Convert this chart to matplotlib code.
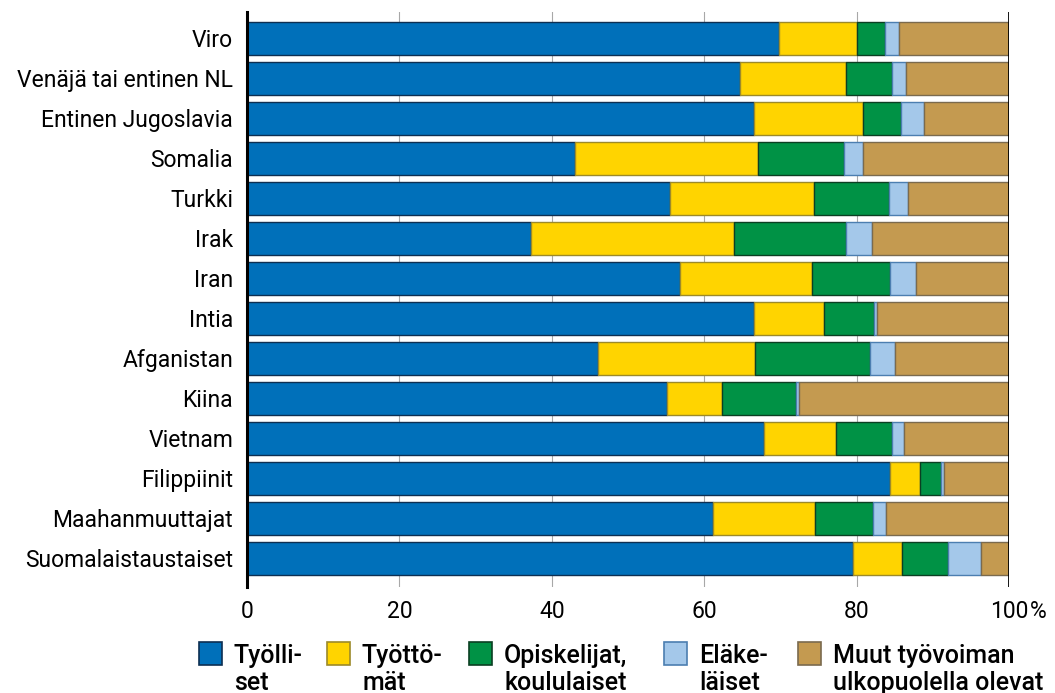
import matplotlib
matplotlib.use("Agg")
import matplotlib.pyplot as plt
from matplotlib.patches import Rectangle
import numpy as np

categories = ["Viro", "Venäjä tai entinen NL", "Entinen Jugoslavia", "Somalia", "Turkki",
              "Irak", "Iran", "Intia", "Afganistan", "Kiina", "Vietnam", "Filippiinit",
              "Maahanmuuttajat", "Suomalaistaustaiset"]
tyolliset    = [69.8, 64.7, 66.5, 43.1, 55.5, 37.3, 56.8, 66.5, 46.1, 55.1, 67.9, 84.4, 61.2, 79.5]
tyottomat    = [10.3, 13.9, 14.4, 24.0, 18.9, 26.6, 17.4,  9.2, 20.6,  7.2,  9.4,  3.9, 13.4,  6.5]
opiskelijat  = [ 3.6,  6.1,  4.9, 11.3,  9.8, 14.7, 10.2,  6.6, 15.1,  9.8,  7.4,  2.8,  7.6,  6.0]
elakelaiset  = [ 1.8,  1.8,  3.1,  2.5,  2.5,  3.4,  3.4,  0.4,  3.2,  0.4,  1.5,  0.4,  1.7,  4.3]
muut         = [14.5, 13.5, 11.1, 19.1, 13.3, 18.0, 12.2, 17.3, 15.0, 27.5, 13.8,  8.5, 16.1,  3.7]
series_labels = ["Työlli-\nset", "Työttö-\nmät", "Opiskelijat,\nkoululaiset", "Eläke-\nläiset",
                 "Muut työvoiman\nulkopuolella olevat"]
xticks = [0, 20, 40, 60, 80, 100]
xticklabels = ["0", "20", "40", "60", "80", "100"]
unit_label = "%"

colors = ["#0070BA", "#FFD400", "#009245", "#A4C8EA", "#C49A50"]
edges = ["#0d2f52", "#9c8a2a", "#0b3f22", "#4c7eb0", "#7a6a4e"]

plt.rcParams['font.family'] = ['Roboto', 'DejaVu Sans']

W, H = 1055, 693
fig = plt.figure(figsize=(W / 100, H / 100), dpi=100)
ax = fig.add_axes([247 / W, 1 - 587 / H, (1009 - 247) / W, (587 - 12) / H])

y = np.arange(len(categories))
data = [tyolliset, tyottomat, opiskelijat, elakelaiset, muut]
left = np.zeros(len(categories))
for vals, c, e, lab in zip(data, colors, edges, series_labels):
    vals = np.array(vals)
    ax.barh(y, vals, left=left, height=0.815, color=c, edgecolor=e, linewidth=1.0,
            label=lab, zorder=3)
    left += vals

ax.set_xlim(0, 100)
ax.set_ylim(13.72, -0.66)
ax.set_yticks(y)
ax.set_yticklabels(categories, fontsize=16.5)
ax.set_xticks(xticks)
ax.set_xticklabels(xticklabels, fontsize=16.5)
ax.tick_params(axis='y', length=0, pad=10)
ax.tick_params(axis='x', length=0, pad=9)
ax.grid(axis='x', color='#a8a8a8', linewidth=0.8, zorder=0)
for s in ['top', 'right', 'bottom']:
    ax.spines[s].set_visible(False)
ax.spines['left'].set_linewidth(2.2)
ax.spines['left'].set_color('black')
ax.spines['left'].set_zorder(5)
ax.axvline(100, color='black', linewidth=2.0, zorder=5)
ax.annotate(unit_label, xy=(100, 0), xycoords=('data', 'axes fraction'),
            xytext=(15, -9), textcoords='offset points', ha='left', va='top', fontsize=16.5)

# manual legend (pixel layout)
sq_x = [199, 327, 469, 664, 798]
for sx, c, e, lab in zip(sq_x, colors, edges, series_labels):
    fig.add_artist(Rectangle((sx / W, 1 - 665 / H), 23 / W, 23 / H, transform=fig.transFigure,
                             facecolor=c, edgecolor=e, linewidth=1.2))
    lines = lab.split("\n")
    for k, line in enumerate(lines):
        fig.text((sx + 35) / W, 1 - (663 + 27 * k) / H, line, ha='left', va='baseline',
                 fontsize=18, fontweight='medium')

fig.savefig("out.png", dpi=100)
